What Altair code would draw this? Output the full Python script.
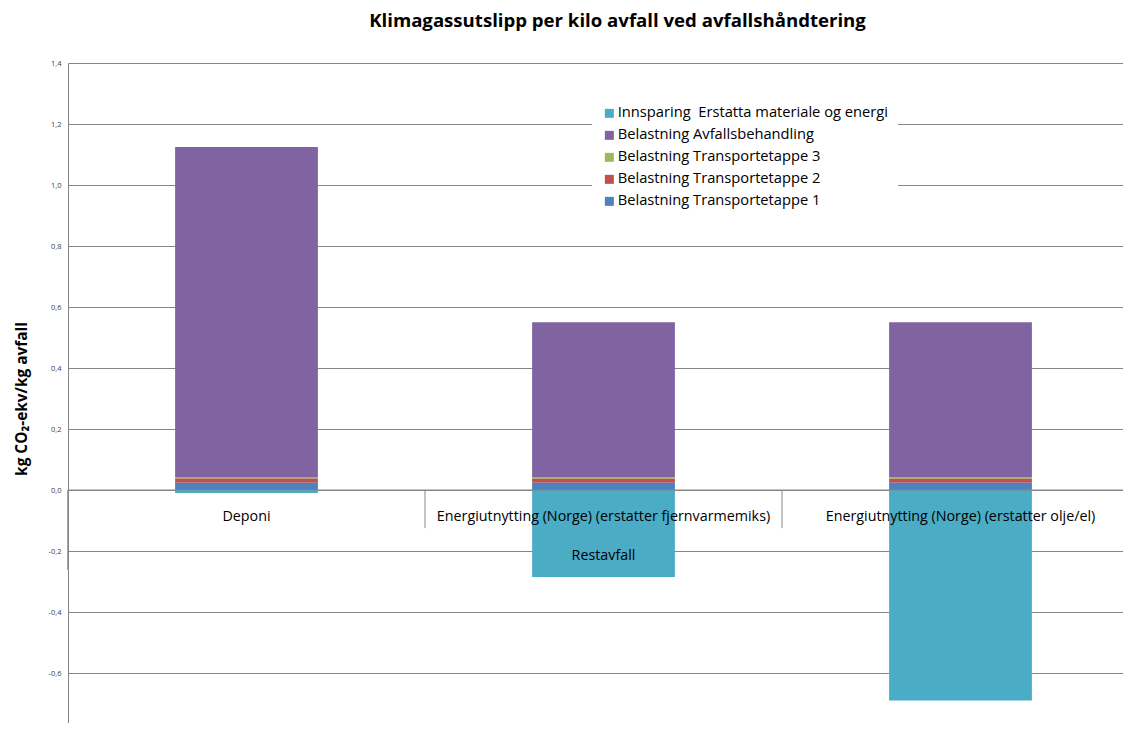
import altair as alt
import pandas as pd

# ---- data ----
categories = [
    "Deponi",
    "Energiutnytting (Norge) (erstatter fjernvarmemiks)",
    "Energiutnytting (Norge) (erstatter olje/el)",
]
group_label = "Restavfall"
series = [
    "Innsparing\u00a0 Erstatta materiale og energi",
    "Belastning Avfallsbehandling",
    "Belastning Transportetappe 3",
    "Belastning Transportetappe 2",
    "Belastning Transportetappe 1",
]
colors = ["#4BACC6", "#8064A2", "#9BBB59", "#C0504D", "#4F81BD"]

innsparing = [-0.010, -0.285, -0.690]
avfallsbehandling = [1.082, 0.507, 0.507]
transport3 = [0.005, 0.006, 0.006]
transport2 = [0.014, 0.013, 0.013]
transport1 = [0.024, 0.024, 0.024]

y_ticks = [-0.8, -0.6, -0.4, -0.2, 0.0, 0.2, 0.4, 0.6, 0.8, 1.0, 1.2, 1.4]
boundaries = ["b0", "b1", "b2", "b3"]

# ---- table ----
values = {
    series[0]: innsparing,
    series[1]: avfallsbehandling,
    series[2]: transport3,
    series[3]: transport2,
    series[4]: transport1,
}
stack_order = [series[4], series[3], series[2], series[1], series[0]]
rows = []
for ci, c in enumerate(categories):
    for s in series:
        rows.append({"cat": c, "serie": s, "val": values[s][ci], "k": stack_order.index(s)})
df = pd.DataFrame(rows)

FONT = "Open Sans"
W, H = 1055, 660
XR, YR = 1071, 671
GRID = "#868686"

xband = alt.Scale(domain=categories, paddingInner=0.6, paddingOuter=0.3, range=[0, XR])
yscale = alt.Scale(domain=[-0.8, 1.4], range=[YR, 0], nice=False, zero=False)
xpos = alt.X("cat:N", scale=xband, axis=None, sort=categories)

bars = alt.Chart(df).mark_bar().encode(
    x=xpos,
    y=alt.Y(
        "val:Q",
        stack="zero",
        scale=yscale,
        title="kg CO₂-ekv/kg avfall",
        axis=alt.Axis(
            values=y_ticks,
            labelExpr="replace(replace(format(datum.value, '.1f'), '.', ','), '\u2212', '-')",
            labelFont=FONT,
            labelFontSize=7.5,
            labelColor="#404040",
            labelPadding=7,
            ticks=False,
            domainColor=GRID,
            grid=True,
            gridColor=GRID,
            gridWidth=1,
            titleFont=FONT,
            titleFontSize=15.4,
            titleFontWeight="bold",
            titleColor="#000000",
            titlePadding=19,
        ),
    ),
    color=alt.Color(
        "serie:N",
        scale=alt.Scale(domain=series, range=colors),
        legend=alt.Legend(
            title=None,
            orient="none",
            legendX=524,
            legendY=33,
            fillColor="white",
            padding=10,
            symbolType="square",
            symbolSize=81,
            symbolStrokeWidth=0,
            labelFont=FONT,
            labelFontSize=14.7,
            labelColor="#000000",
            labelLimit=500,
            labelOffset=1,
            rowPadding=6,
        ),
    ),
    order=alt.Order("k:Q"),
)

axis_line = alt.Chart(pd.DataFrame({"z": [0]})).mark_rule(color=GRID, strokeWidth=1).encode(
    y=alt.Y("z:Q", scale=yscale)
)

bdf = pd.DataFrame({"b": boundaries})
bscale = alt.Scale(type="point", padding=0, range=[0, XR], domain=boundaries)
inner_ticks = alt.Chart(bdf).transform_filter(
    "datum.b == 'b1' || datum.b == 'b2'"
).mark_rule(color=GRID, strokeWidth=1).encode(
    x=alt.X("b:N", scale=bscale, axis=None),
    y=alt.datum(0),
    y2=alt.datum(-0.125),
)
outer_ticks = alt.Chart(bdf).transform_filter(
    "datum.b == 'b0' || datum.b == 'b3'"
).mark_rule(color=GRID, strokeWidth=1.5).encode(
    x=alt.X("b:N", scale=bscale, axis=None),
    y=alt.datum(0),
    y2=alt.datum(-0.262),
)

cat_text = alt.Chart(pd.DataFrame({"cat": categories})).mark_text(
    dy=27, font=FONT, fontSize=14.3, color="#000000"
).encode(x=xpos, y=alt.datum(0), text="cat:N")

group_text = alt.Chart(pd.DataFrame({"cat": [categories[1]], "label": [group_label]})).mark_text(
    dy=66, font=FONT, fontSize=14.3, color="#000000"
).encode(x=xpos, y=alt.datum(0), text="label:N")

chart = (
    alt.layer(bars, axis_line, inner_ticks, outer_ticks, cat_text, group_text)
    .resolve_scale(x="independent")
    .properties(
        width=W,
        height=H,
        title=alt.TitleParams(
            "Klimagassutslipp per kilo avfall ved avfallshåndtering",
            font=FONT,
            fontSize=18.6,
            fontWeight="bold",
            color="#000000",
            anchor="middle",
            frame="group",
            dx=22,
            offset=28,
        ),
        autosize=alt.AutoSizeParams(type="none"),
        padding={"left": 60, "top": 55, "right": 0, "bottom": 0},
        background="white",
    )
    .configure_view(stroke=None)
)

chart.save("out.html", embed_options={"renderer": "svg", "actions": False})
